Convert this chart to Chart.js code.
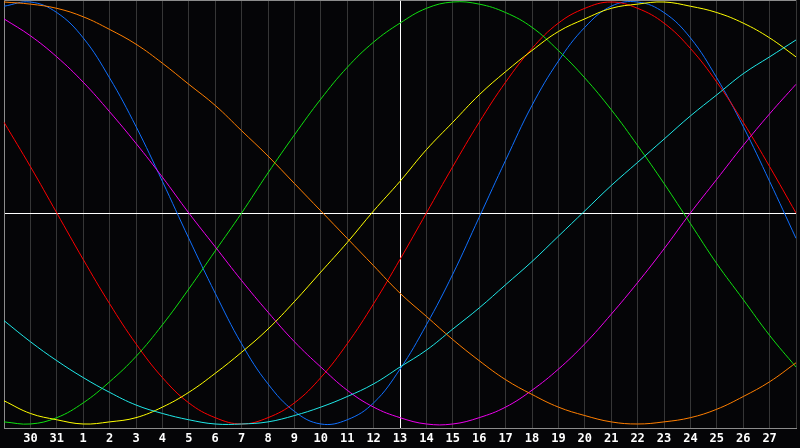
<!doctype html>
<html lang="en">
<head>
    <meta charset="utf-8">
    <title>Biorhythm</title>
    <script src="https://cdn.jsdelivr.net/npm/chart.js"></script>
    <style>
        html, body { margin: 0; padding: 0; background: #050507; }
        canvas { display: block; }
    </style>
</head>
<body>
<canvas id="bio" width="800" height="448"></canvas>
<script>
    // day labels, first and last sit on the edges and are not printed
    const days = ['29', '30', '31', '1', '2', '3', '4', '5', '6', '7', '8', '9', '10', '11', '12', '13',
        '14', '15', '16', '17', '18', '19', '20', '21', '22', '23', '24', '25', '26', '27', '28'];
    const today = 15; // index of day 13

    const physical = [98, 100, 95, 83, 64, 41, 15, -12, -38, -62, -81, -94, -100, -98, -90, -74,
        -53, -29, -2, 25, 51, 72, 88, 98, 100, 95, 83, 64, 41, 15, -12];
    const emotional = [43, 22, 0, -22, -43, -62, -78, -90, -97, -100, -97, -90, -78, -62, -43, -22,
        0, 22, 43, 62, 78, 90, 97, 100, 97, 90, 78, 62, 43, 22, 0];
    const intellectual = [-99, -100, -97, -90, -80, -68, -53, -36, -18, 0, 19, 37, 54, 69, 81, 90,
        97, 100, 99, 95, 88, 77, 64, 49, 32, 14, -5, -24, -41, -58, -73];
    const intuitive = [92, 84, 74, 62, 48, 33, 17, 0, -16, -32, -47, -61, -73, -84, -92, -97,
        -100, -100, -97, -92, -84, -74, -62, -48, -33, -17, 0, 16, 32, 47, 61];
    const aesthetic = [-89, -95, -98, -100, -99, -97, -92, -85, -76, -66, -55, -42, -28, -14, 1, 15,
        30, 43, 56, 67, 77, 86, 92, 97, 99, 100, 98, 95, 90, 83, 74];
    const awareness = [100, 99, 97, 93, 87, 80, 71, 61, 51, 39, 27, 14, 1, -12, -25, -38,
        -49, -60, -70, -79, -86, -92, -96, -99, -100, -99, -97, -93, -87, -80, -71];
    const spiritual = [-51, -61, -70, -78, -85, -91, -95, -98, -100, -100, -99, -96, -92, -87, -81, -73,
        -65, -55, -45, -34, -23, -11, 1, 13, 24, 35, 46, 56, 66, 74, 82];

    const lines = [
        {label: 'Awareness', data: awareness, color: '#ff7f00'},
        {label: 'Spiritual', data: spiritual, color: '#20e8e8'},
        {label: 'Aesthetic', data: aesthetic, color: '#ffff00'},
        {label: 'Intuitive', data: intuitive, color: '#ee00ee'},
        {label: 'Intellectual', data: intellectual, color: '#10e010'},
        {label: 'Emotional', data: emotional, color: '#ff0000'},
        {label: 'Physical', data: physical, color: '#1070ff'}
    ];

    // center line and frame
    const frame = {
        id: 'frame',
        beforeDraw(chart) {
            const ctx = chart.ctx;
            ctx.save();
            ctx.fillStyle = '#050507';
            ctx.fillRect(0, 0, chart.width, chart.height);
            ctx.restore();
        },
        beforeDatasetsDraw(chart) {
            const {ctx, chartArea: a, scales: {y}} = chart;
            ctx.save();
            ctx.lineWidth = 1;
            ctx.strokeStyle = '#ffffff';
            const y0 = Math.round(y.getPixelForValue(0)) + 0.5;
            ctx.beginPath();
            ctx.moveTo(a.left, y0);
            ctx.lineTo(a.right, y0);
            ctx.stroke();
            ctx.strokeStyle = '#8c8c8c';
            ctx.beginPath();
            ctx.moveTo(a.left + 0.5, a.bottom);
            ctx.lineTo(a.left + 0.5, a.top + 0.5);
            ctx.lineTo(a.right, a.top + 0.5);
            ctx.stroke();
            ctx.restore();
        }
    };

    new Chart(document.getElementById('bio'), {
        type: 'line',
        data: {
            labels: days,
            datasets: lines.map(l => ({
                label: l.label,
                data: l.data,
                borderColor: l.color,
                borderWidth: 1,
                pointRadius: 0,
                tension: 0.4,
                fill: false
            }))
        },
        options: {
            responsive: false,
            animation: false,
            devicePixelRatio: 1,
            layout: {padding: 0},
            plugins: {legend: {display: false}, tooltip: {enabled: false}},
            scales: {
                x: {
                    offset: false,
                    afterFit(scale) { scale.height = 20; },
                    grid: {
                        color: c => c.index === today ? '#ffffff' : '#363636',
                        drawTicks: false
                    },
                    border: {color: '#8c8c8c'},
                    ticks: {
                        autoSkip: false,
                        maxRotation: 0,
                        padding: 4,
                        color: '#ffffff',
                        font: {family: 'DejaVu Sans Mono', size: 12, weight: 'bold'},
                        callback: (v, i) => (i === 0 || i === days.length - 1) ? '' : days[i]
                    }
                },
                y: {
                    display: false,
                    min: -101.9,
                    max: 100.95
                }
            }
        },
        plugins: [frame]
    });
</script>
</body>
</html>
